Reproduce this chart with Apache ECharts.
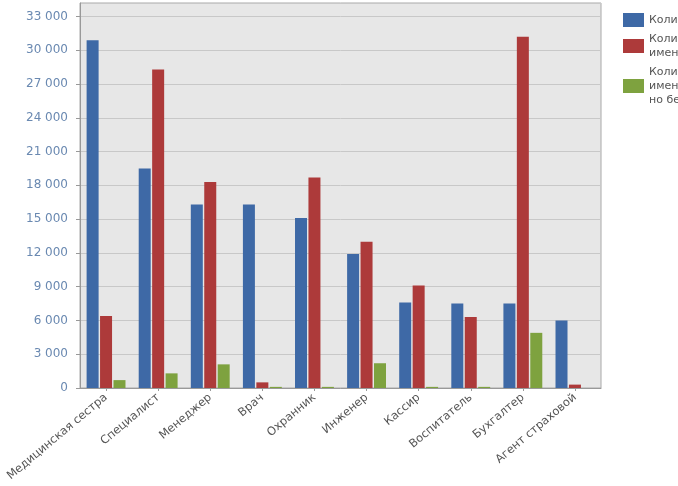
<!DOCTYPE html>
<html>
<head>
<meta charset="utf-8">
<script src="https://cdn.jsdelivr.net/npm/echarts@6/dist/echarts.min.js"></script>
<style>html,body{margin:0;padding:0;background:#fff}#c{width:678px;height:486px}</style>
</head>
<body>
<div id="c"></div>
<script>
const categories = ["Медицинская сестра","Специалист","Менеджер","Врач","Охранник","Инженер","Кассир","Воспитатель","Бухгалтер","Агент страховой"];
const seriesNames = ["Количество вакансий","Количество резюме с\nименем профессии","Количество резюме с\nименем профессии,\nно без опыта работы"];
const vacancies = [30900, 19500, 16300, 16300, 15100, 11900, 7600, 7500, 7500, 6000];
const resumes = [6400, 28300, 18300, 500, 18700, 13000, 9100, 6300, 31200, 300];
const resumesNoExp = [700, 1300, 2100, 100, 100, 2200, 100, 100, 4900, 0];
const colors = ["#3e69a6", "#ad3a3a", "#7ea23f"];

const chart = echarts.init(document.getElementById('c'), null, {renderer: 'canvas'});
const fmt = v => String(v).replace(/\B(?=(\d{3})+(?!\d))/g, ' ');
const mk = (name, data, i) => ({
  name, type: 'bar', data, barWidth: 12, barGap: '12%',
  itemStyle: {color: colors[i]}
});
chart.setOption({
  animation: false,
  backgroundColor: '#fff',
  textStyle: {fontFamily: 'DejaVu Sans'},
  grid: {left: 80, right: 77, top: 3, bottom: 98, show: true, backgroundColor: '#e7e7e7', borderColor: '#a8a8a8', borderWidth: 1},
  legend: {
    orient: 'vertical', left: 618, top: 8, itemWidth: 21, itemHeight: 14, itemGap: 5,
    icon: 'rect', align: 'left',
    textStyle: {fontSize: 11, color: '#555', lineHeight: 14, fontFamily: 'DejaVu Sans'}
  },
  xAxis: {
    type: 'category', data: categories,
    axisLine: {lineStyle: {color: '#999'}},
    axisTick: {show: true, alignWithLabel: true, length: 3, lineStyle: {color: '#999'}},
    axisLabel: {rotate: 40, interval: 0, fontSize: 11.5, color: '#555', margin: 8, fontFamily: 'DejaVu Sans'}
  },
  yAxis: {
    type: 'value', min: 0, max: 34200, interval: 3000,
    axisLine: {show: true, lineStyle: {color: '#999'}},
    axisTick: {show: true, length: 4, lineStyle: {color: '#999'}},
    axisLabel: {formatter: fmt, fontSize: 12, color: '#6a89b1', margin: 12, showMaxLabel: false, fontFamily: 'DejaVu Sans'},
    splitLine: {lineStyle: {color: '#c8c8c8'}}
  },
  series: [mk(seriesNames[0], vacancies, 0), mk(seriesNames[1], resumes, 1), mk(seriesNames[2], resumesNoExp, 2)]
});
</script>
</body>
</html>
